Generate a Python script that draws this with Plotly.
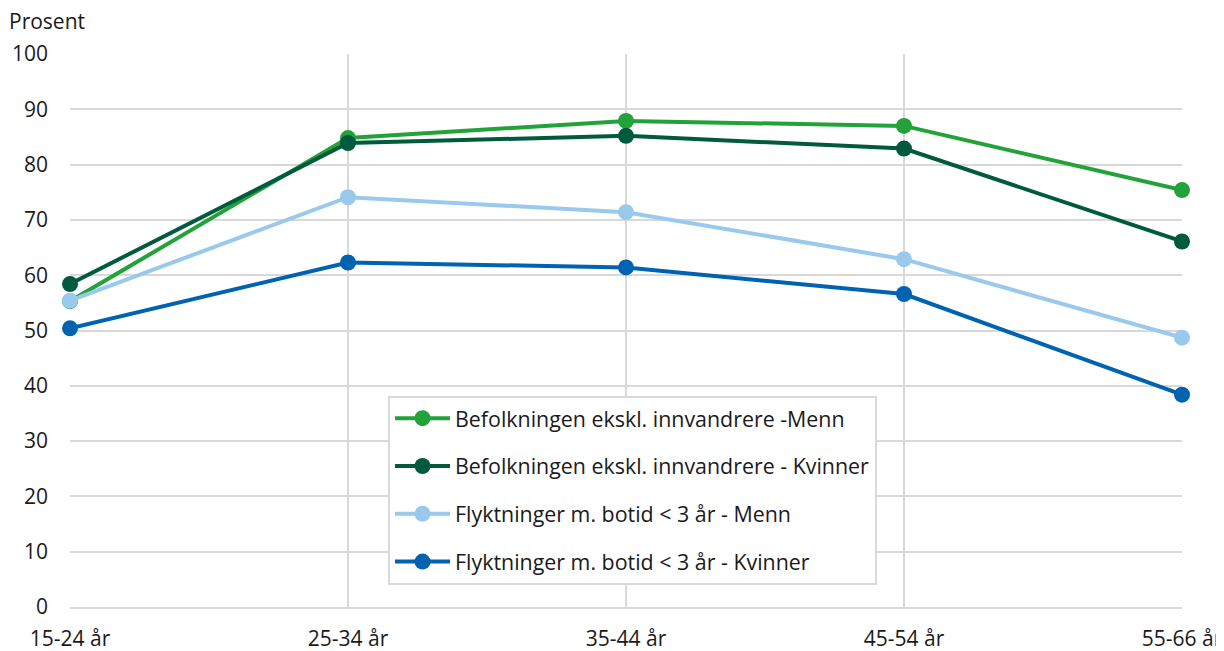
import plotly.graph_objects as go

FONT = "Open Sans"

age_groups = ["15-24 år", "25-34 år", "35-44 år", "45-54 år", "55-66 år"]
series_names = [
    "Befolkningen ekskl. innvandrere -Menn",
    "Befolkningen ekskl. innvandrere - Kvinner",
    "Flyktninger m. botid < 3 år - Menn",
    "Flyktninger m. botid < 3 år - Kvinner",
]
bef_menn = [55.3, 84.8, 87.9, 87.0, 75.4]
bef_kvinner = [58.4, 83.9, 85.2, 82.9, 66.1]
fly_menn = [55.4, 74.1, 71.4, 62.9, 48.7]
fly_kvinner = [50.4, 62.3, 61.4, 56.6, 38.4]
colors = ["#23a23a", "#005a3e", "#99c9ed", "#0063b1"]

fig = go.Figure()
for name, vals, col in zip(series_names, [bef_menn, bef_kvinner, fly_menn, fly_kvinner], colors):
    fig.add_trace(
        go.Scatter(
            x=list(range(len(age_groups))),
            y=vals,
            name=name,
            legendgroup=name,
            mode="lines+markers",
            line=dict(color=col, width=4),
            marker=dict(color=col, size=16),
            cliponaxis=False,
        )
    )

# page body adds an 8px offset, so the figure is a bit smaller than the window
fig.update_layout(
    width=1216,
    height=643,
    margin=dict(l=62, r=42, t=46, b=44),
    plot_bgcolor="white",
    paper_bgcolor="white",
    font=dict(family=FONT, size=21, color="#1a1a1a"),
    showlegend=True,
    legend=dict(
        x=0.286,
        y=0.382,
        xanchor="left",
        yanchor="top",
        bgcolor="white",
        bordercolor="#d9d9d9",
        borderwidth=2,
        font=dict(family=FONT, size=21.4, color="#1a1a1a"),
        tracegroupgap=17,
        itemwidth=55,
    ),
    xaxis=dict(
        tickmode="array",
        tickvals=list(range(len(age_groups))),
        ticktext=age_groups,
        range=[0, 4],
        showgrid=True,
        gridcolor="#d9d9d9",
        gridwidth=2,
        zeroline=False,
        showline=True,
        linecolor="#d9d9d9",
        linewidth=2,
        ticks="",
        ticklabelstandoff=12,
        automargin=False,
    ),
    yaxis=dict(
        range=[0, 100],
        dtick=10,
        showgrid=True,
        gridcolor="#d9d9d9",
        gridwidth=2,
        zeroline=False,
        ticks="",
        ticklabelstandoff=21,
        automargin=False,
    ),
    annotations=[
        dict(
            text="Prosent",
            xref="paper",
            yref="paper",
            x=-0.057,
            y=1.0,
            xanchor="left",
            yanchor="bottom",
            yshift=17,
            showarrow=False,
            font=dict(family=FONT, size=21, color="#1a1a1a"),
        )
    ],
)

fig.write_html("out.html")
